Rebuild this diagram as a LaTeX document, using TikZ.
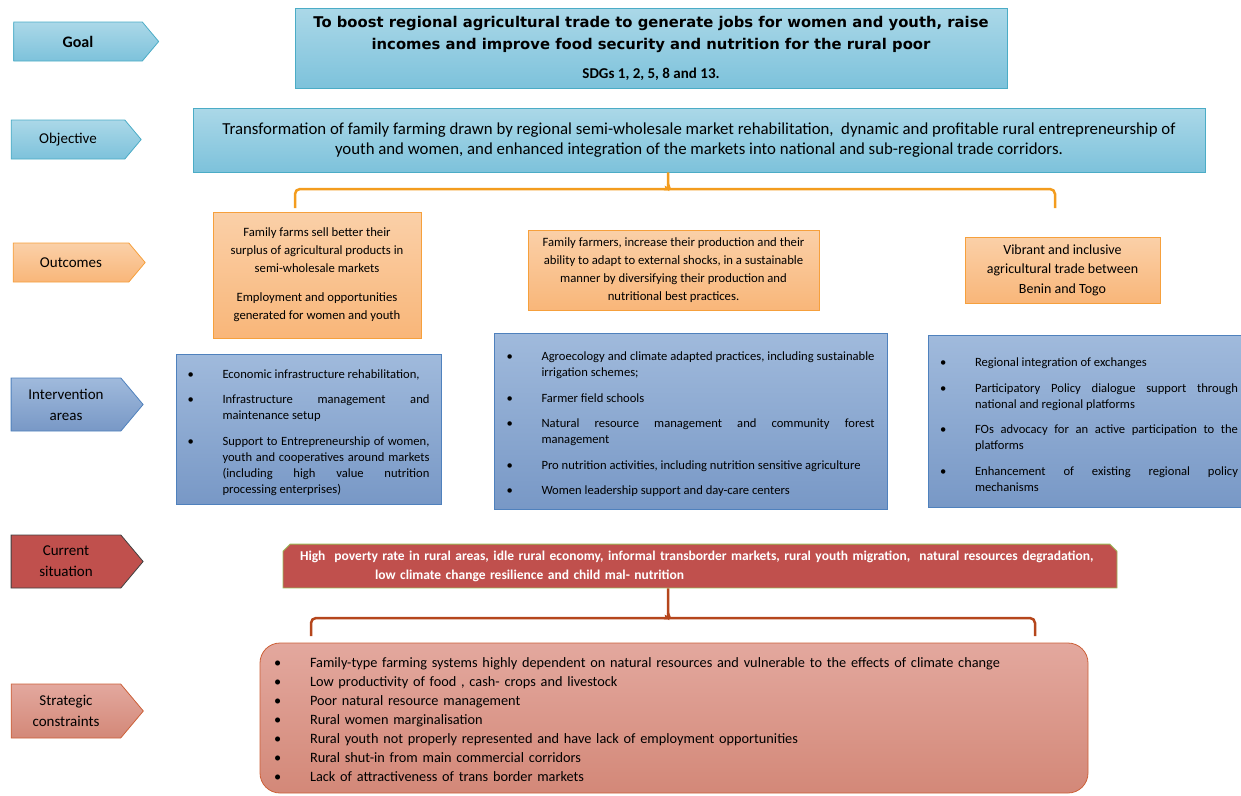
\documentclass[tikz,border=0pt]{standalone}
\usepackage{fontspec}
\setmainfont{Carlito}
\newfontfamily\goalfont{DejaVu Sans}
\usepackage{enumitem}
\usetikzlibrary{shapes.symbols, shapes.misc}

\definecolor{goaltop}{HTML}{ABD8E8}
\definecolor{goalbot}{HTML}{7DC2DB}
\definecolor{goalline}{HTML}{4BACC6}
\definecolor{outtop}{HTML}{FAD0A8}
\definecolor{outbot}{HTML}{F9B679}
\definecolor{outline}{HTML}{F6A03C}
\definecolor{inttop}{HTML}{A0BADC}
\definecolor{intbot}{HTML}{7898C6}
\definecolor{intline}{HTML}{4F81BD}
\definecolor{curfill}{HTML}{C0504D}
\definecolor{curline}{HTML}{9BBB59}
\definecolor{contop}{HTML}{E3A89E}
\definecolor{conbot}{HTML}{D38878}
\definecolor{conline}{HTML}{CC6038}
\definecolor{braceorange}{HTML}{F39C1E}
\definecolor{bracebrown}{HTML}{B5461C}

\tikzstyle{tagbox} = [signal,
                      signal to=east,
                      signal pointer angle=100,
                      line width=0.8pt,
                      align=center,
                      inner sep=2pt,
                      font=\fontsize{15}{21}\selectfont,
                     ]
\tikzstyle{bluebox} = [rectangle,
                       draw=goalline,
                       top color=goaltop,
                       bottom color=goalbot,
                       line width=0.8pt,
                       align=center,
                      ]
\tikzstyle{outbox} = [rectangle,
                      draw=outline,
                      top color=outtop,
                      bottom color=outbot,
                      line width=0.8pt,
                      align=center,
                      font=\fontsize{12.7}{18}\selectfont,
                     ]
\tikzstyle{intbox} = [rectangle,
                      draw=intline,
                      top color=inttop,
                      bottom color=intbot,
                      line width=0.8pt,
                      align=justify,
                      font=\fontsize{12.6}{16}\selectfont,
                     ]
\tikzstyle{obrace} = [line width=2.5pt, braceorange, rounded corners=5pt]
\tikzstyle{rbrace} = [line width=2.5pt, bracebrown, rounded corners=5pt]

\setlist[itemize]{label=\textbullet, leftmargin=35pt, labelsep=0pt,
  labelwidth=35pt, align=left, nosep, itemsep=9.5pt}

\begin{document}
\begin{tikzpicture}[x=1pt, y=-1pt]

\useasboundingbox (0,0) rectangle (1241,795);
\clip (0,0) rectangle (1241,795);

% row labels
\node (goaltag) [tagbox, draw=goalline, top color=goaltop, bottom color=goalbot, minimum width=145, minimum height=39, font=\bfseries\fontsize{16}{20}\selectfont] at (78,41.5) {Goal};
\node (objtag) [tagbox, draw=goalline, top color=goaltop, bottom color=goalbot, minimum width=130, minimum height=39] at (68,139.5) {Objective};
\node (outtag) [tagbox, draw=outline, top color=outtop, bottom color=outbot, minimum width=132, minimum height=39] at (71,262.5) {Outcomes};
\node (inttag) [tagbox, draw=intline, top color=inttop, bottom color=intbot, minimum width=132, minimum height=53] at (66,404.5) {Intervention\\areas};
\node (curtag) [tagbox, draw=black!75, fill=curfill, minimum width=132, minimum height=53] at (66,561.5) {Current\\situation};
\node (contag) [tagbox, draw=conline, top color=contop, bottom color=conbot, minimum width=132, minimum height=54] at (66,711) {Strategic\\constraints};

% goal and objective
\node (goal) [bluebox, minimum width=712, minimum height=80, font=\goalfont\bfseries\fontsize{14.8}{22}\selectfont] at (651,48) {To boost regional agricultural trade to generate jobs for women and youth, raise\\ incomes and improve food security and nutrition for the rural poor\\[7pt] \normalfont\bfseries\fontsize{15}{17}\selectfont SDGs 1, 2, 5, 8 and 13.};
\node (obj) [bluebox, minimum width=1012, minimum height=64, font=\fontsize{16.8}{20.5}\selectfont] at (699,140) {Transformation of family farming drawn by regional semi-wholesale market rehabilitation,\ \ dynamic and profitable rural entrepreneurship of\\ youth and women, and enhanced integration of the markets into national and sub-regional trade corridors.};

% outcomes
\node (out1) [outbox, minimum width=208, minimum height=126] at (317,275) {Family farms sell better their\\ surplus of agricultural products in\\ semi-wholesale markets\\[11pt] Employment and opportunities\\ generated for women and youth};
\node (out2) [outbox, minimum width=291, minimum height=80] at (673.5,270) {Family farmers, increase their production and their\\ ability to adapt to external shocks, in a sustainable\\ manner by diversifying their production and\\ nutritional best practices.};
\node (out3) [outbox, minimum width=195, minimum height=66, font=\fontsize{14}{19.5}\selectfont] at (1062.5,270) {Vibrant and inclusive\\ agricultural trade between\\ Benin and Togo};

% intervention areas
\node (int1) [intbox, minimum height=150, inner xsep=11.5, text width=242] at (308.5,429) {%
\begin{itemize}
\item Economic infrastructure rehabilitation,
\item Infrastructure management and\linebreak maintenance setup
\item Support to Entrepreneurship of women,\linebreak youth and cooperatives around markets\linebreak (including high value nutrition\linebreak processing enterprises)
\end{itemize}};
\node (int2) [intbox, minimum height=176, inner xsep=12.5, text width=368] at (690.5,421) {%
\begin{itemize}
\item Agroecology and climate adapted practices, including sustainable\linebreak irrigation schemes;
\item Farmer field schools
\item Natural resource management and community forest\linebreak management
\item Pro nutrition activities, including nutrition sensitive agriculture
\item Women leadership support and day-care centers
\end{itemize}};
\node (int3) [intbox, minimum height=172, inner xsep=12, text width=298] at (1089,421) {%
\begin{itemize}
\item Regional integration of exchanges
\item Participatory Policy dialogue support through\linebreak national and regional platforms
\item FOs advocacy for an active participation to the\linebreak platforms
\item Enhancement of existing regional policy\linebreak mechanisms
\end{itemize}};

% current situation and constraints
\node (cur) [chamfered rectangle, chamfered rectangle corners={north west, north east}, chamfered rectangle xsep=4pt, draw=curline, fill=curfill, text=white, line width=0.8pt, minimum width=826, minimum height=42, inner xsep=13, text width=800, align=left, font=\bfseries\fontsize{13.5}{19}\selectfont] at (700,566) {High\ \ poverty rate in rural areas, idle rural economy, informal transborder markets, rural youth migration,\ \ natural resources degradation,\\ \hspace*{75pt}low climate change resilience and child mal- nutrition};
\node (con) [rectangle, rounded corners=20pt, draw=conline, top color=contop, bottom color=conbot, line width=0.8pt, minimum width=828, minimum height=150, inner xsep=14, text width=800, align=left, font=\fontsize{14.3}{19}\selectfont] at (674,718) {%
\begin{itemize}[leftmargin=36pt, labelwidth=36pt, itemsep=0pt]
\item Family-type farming systems highly dependent on natural resources and vulnerable to the effects of climate change
\item Low productivity of food , cash- crops and livestock
\item Poor natural resource management
\item Rural women marginalisation
\item Rural youth not properly represented and have lack of employment opportunities
\item Rural shut-in from main commercial corridors
\item Lack of attractiveness of trans border markets
\end{itemize}\par\kern6pt};

% braces
\coordinate (oj) at (668,189);
\coordinate (obl) at (295,208);
\coordinate (obr) at (1055,208);
\draw [obrace] (obl) |- ([xshift=-6pt]oj) to[out=0, in=-90] ([yshift=5pt]oj) -- ([xshift=-31pt]obj.south);
\draw [obrace] (obr) |- ([xshift=6pt]oj) to[out=180, in=-90] ([yshift=5pt]oj);

\coordinate (rj) at (668,618);
\coordinate (rbl) at (311,636);
\coordinate (rbr) at (1035,636);
\draw [rbrace] (rbl) |- ([xshift=-6pt]rj) to[out=0, in=-90] ([yshift=5pt]rj) -- ([xshift=-32pt]cur.south);
\draw [rbrace] (rbr) |- ([xshift=6pt]rj) to[out=180, in=-90] ([yshift=5pt]rj);

\end{tikzpicture}
\end{document}
